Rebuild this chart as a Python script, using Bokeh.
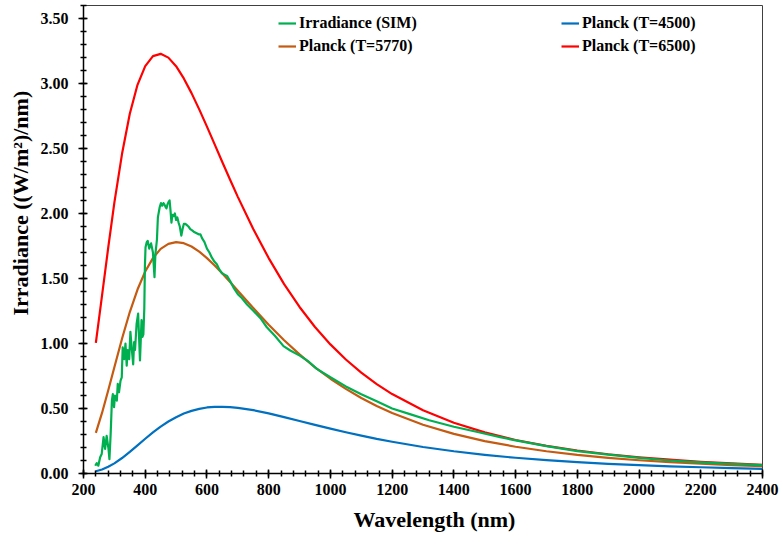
from bokeh.plotting import figure
from bokeh.models import (Range1d, Legend, LegendItem, Title, NumeralTickFormatter,
                          SingleIntervalTicker, ColumnDataSource)
from bokeh.embed import file_html
from bokeh.resources import INLINE

# ---------------- data ----------------
sim_wl = [238, 243, 248, 254, 259, 265, 270, 275, 281, 284, 288, 292, 295, 299, 302, 308,
          311, 315, 320, 324, 327, 332, 336, 340, 343, 348, 352, 356, 361, 364, 367, 372,
          377, 380, 383, 388, 391, 394, 397, 399, 401, 405, 408, 413, 419, 425, 430, 433,
          438, 441, 447, 451, 455, 459, 462, 466, 469, 472, 476, 479, 482, 485, 488, 492,
          496, 500, 504, 508, 512, 517, 521, 525, 530, 535, 540, 546, 552, 557, 565, 573,
          579, 584, 592, 600, 608, 616, 624, 632, 640, 649, 657, 665, 675, 686, 700, 713,
          730, 751, 775, 794, 820, 848, 870, 902, 930, 956, 1000, 1050, 1100, 1150, 1200,
          1260, 1320, 1400, 1484, 1550, 1600, 1700, 1800, 1900, 2000, 2100, 2200, 2300, 2400]
sim_irr = [0.06, 0.08, 0.06, 0.125, 0.15, 0.28, 0.19, 0.29, 0.19, 0.11, 0.305, 0.56, 0.61, 0.51,
           0.60, 0.56, 0.69, 0.625, 0.715, 0.74, 0.97, 0.88, 1.00, 0.83, 0.95, 0.88, 1.09, 0.97,
           0.84, 1.01, 0.95, 1.15, 1.23, 1.05, 0.87, 1.18, 1.05, 1.07, 1.27, 1.60, 1.74, 1.78,
           1.79, 1.73, 1.77, 1.70, 1.51, 1.69, 1.80, 1.97, 2.05, 2.08, 2.06, 2.08, 2.07, 2.05,
           2.04, 2.07, 2.09, 2.10, 2.02, 1.93, 1.99, 1.98, 2.00, 1.95, 1.97, 1.93, 1.90, 1.83,
           1.88, 1.92, 1.92, 1.91, 1.90, 1.88, 1.87, 1.86, 1.85, 1.84, 1.84, 1.81, 1.78, 1.73,
           1.70, 1.66, 1.63, 1.61, 1.57, 1.54, 1.53, 1.52, 1.48, 1.43, 1.38, 1.35, 1.30, 1.25,
           1.19, 1.125, 1.06, 0.98, 0.946, 0.905, 0.86, 0.805, 0.74, 0.67, 0.61, 0.555, 0.50,
           0.455, 0.41, 0.36, 0.315, 0.28, 0.255, 0.21, 0.172, 0.145, 0.12, 0.10, 0.085, 0.074,
           0.065]

planck_wl = [240, 260, 280, 300, 325, 350, 375, 400, 425, 450, 475, 500, 525, 550, 575, 600,
             625, 650, 675, 700, 750, 800, 850, 900, 950, 1000, 1050, 1100, 1150, 1200, 1300,
             1400, 1500, 1600, 1700, 1800, 1900, 2000, 2100, 2200, 2300, 2400]
planck_4500 = [0.017, 0.031, 0.052, 0.078, 0.119, 0.166, 0.216, 0.267, 0.316, 0.361, 0.400,
               0.433, 0.461, 0.482, 0.497, 0.508, 0.5125, 0.513, 0.511, 0.505, 0.487, 0.463,
               0.434, 0.404, 0.374, 0.345, 0.317, 0.291, 0.266, 0.244, 0.204, 0.171, 0.1435,
               0.121, 0.1026, 0.087, 0.0746, 0.064, 0.0553, 0.048, 0.0417, 0.036]
planck_5770 = [0.313, 0.466, 0.638, 0.818, 1.039, 1.242, 1.415, 1.554, 1.657, 1.728, 1.766,
               1.780, 1.772, 1.746, 1.707, 1.657, 1.600, 1.539, 1.473, 1.406, 1.273, 1.145,
               1.025, 0.916, 0.817, 0.729, 0.651, 0.581, 0.520, 0.466, 0.375, 0.305, 0.2495,
               0.206, 0.171, 0.143, 0.1204, 0.102, 0.087, 0.075, 0.0643, 0.056]
planck_6500 = [1.004, 1.368, 1.735, 2.083, 2.461, 2.767, 2.990, 3.134, 3.211, 3.228, 3.199,
               3.133, 3.039, 2.926, 2.801, 2.668, 2.532, 2.394, 2.260, 2.128, 1.881, 1.657,
               1.457, 1.281, 1.127, 0.993, 0.877, 0.776, 0.6875, 0.611, 0.486, 0.390, 0.316,
               0.258, 0.213, 0.177, 0.148, 0.125, 0.106, 0.0905, 0.0777, 0.067]

x_label = "Wavelength (nm)"
y_label = "Irradiance  ((W/m\u00b2)/nm)"
series_names = ["Irradiance (SIM)", "Planck (T=5770)", "Planck (T=4500)", "Planck (T=6500)"]
colors = ["#00B050", "#C55A11", "#0070C0", "#FF0000"]

FONT = "Liberation Serif"

p = figure(width=779, height=545, output_backend="svg", toolbar_location=None,
           x_range=Range1d(200, 2400), y_range=Range1d(0, 3.6))
p.min_border_left = 83
p.min_border_right = 17
p.min_border_top = 5
p.min_border_bottom = 72
p.background_fill_color = "white"
p.border_fill_color = "white"
p.outline_line_color = "#404040"
p.outline_line_width = 1
p.xgrid.visible = False
p.ygrid.visible = False

src_sim = ColumnDataSource(dict(x=sim_wl, y=sim_irr))
src_pl = ColumnDataSource(dict(x=planck_wl, a=planck_4500, b=planck_5770, c=planck_6500))

r_blue = p.line("x", "a", source=src_pl, line_color=colors[2], line_width=2.2, line_join="round")
r_brown = p.line("x", "b", source=src_pl, line_color=colors[1], line_width=2.2, line_join="round")
r_red = p.line("x", "c", source=src_pl, line_color=colors[3], line_width=2.2, line_join="round")
r_green = p.line("x", "y", source=src_sim, line_color=colors[0], line_width=2.2,
                 line_join="round")

# axes
p.xaxis.ticker = SingleIntervalTicker(interval=200, num_minor_ticks=5)
p.yaxis.ticker = SingleIntervalTicker(interval=0.5, num_minor_ticks=5)
p.yaxis.formatter = NumeralTickFormatter(format="0.00")
for ax in (p.xaxis, p.yaxis):
    ax.axis_line_color = "black"
    ax.axis_line_width = 1.5
    ax.major_tick_line_color = "black"
    ax.major_tick_line_width = 1.5
    ax.minor_tick_line_color = "black"
    ax.minor_tick_line_width = 1.5
    ax.major_tick_in = 4
    ax.major_tick_out = 5
    ax.minor_tick_in = 3
    ax.minor_tick_out = 3
    ax.major_label_text_font = FONT
    ax.major_label_text_font_style = "bold"
    ax.major_label_text_font_size = "16px"
    ax.major_label_text_color = "black"
p.yaxis.major_label_standoff = 10
p.xaxis.major_label_standoff = 5

# axis titles
tx = Title(text=x_label, align="left", offset=270, text_font=FONT, text_font_style="bold",
           text_font_size="22px", text_color="black", standoff=15)
ty = Title(text=y_label, align="left", offset=158, text_font=FONT, text_font_style="bold",
           text_font_size="22px", text_color="black", standoff=8, vertical_align="middle")
p.add_layout(tx, "below")
p.add_layout(ty, "left")

def make_legend(items, xloc):
    lg = Legend(items=items, location=(xloc, 417), orientation="vertical")
    lg.padding = 0
    lg.margin = 0
    lg.spacing = 3
    lg.glyph_width = 18
    lg.glyph_height = 20
    lg.label_height = 20
    lg.label_standoff = 3
    lg.label_text_font = FONT
    lg.label_text_font_style = "bold"
    lg.label_text_font_size = "16px"
    lg.label_text_color = "black"
    lg.border_line_color = None
    lg.background_fill_alpha = 0
    return lg

leg1 = make_legend([LegendItem(label=series_names[0], renderers=[r_green]),
                    LegendItem(label=series_names[1], renderers=[r_brown])], 195)
leg2 = make_legend([LegendItem(label=series_names[2], renderers=[r_blue]),
                    LegendItem(label=series_names[3], renderers=[r_red])], 478)
p.add_layout(leg1, "center")
p.add_layout(leg2, "center")

open("out.html", "w").write(file_html(p, INLINE))
